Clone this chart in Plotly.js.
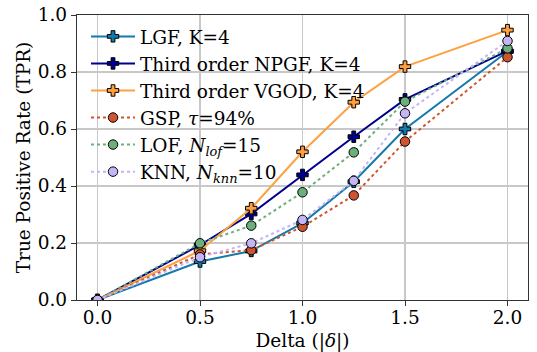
<!DOCTYPE html>
<html>
<head>
<meta charset="utf-8">
<script src="https://cdn.plot.ly/plotly-3.0.1.min.js"></script>
<style>html,body{margin:0;padding:0;background:#fff;}#chart{width:537px;height:352px;}</style>
</head>
<body>
<div id="chart"></div>
<script>
const delta = [0.0, 0.5, 0.75, 1.0, 1.25, 1.5, 2.0];
const lgf  = [0.0, 0.135, 0.172, 0.270, 0.415, 0.600, 0.872];
const npgf = [0.0, 0.193, 0.302, 0.439, 0.573, 0.704, 0.874];
const vgod = [0.0, 0.173, 0.322, 0.520, 0.694, 0.819, 0.947];
const gsp  = [0.0, 0.160, 0.175, 0.257, 0.367, 0.556, 0.852];
const lof  = [0.0, 0.199, 0.261, 0.378, 0.518, 0.696, 0.883];
const knn  = [0.0, 0.150, 0.199, 0.281, 0.418, 0.655, 0.909];

const names = ["LGF, K=4", "Third order NPGF, K=4", "Third order VGOD, K=4",
  "GSP, <i>τ</i>=94%", "LOF, <i>N<sub>lof</sub></i>=15", "KNN, <i>N<sub>knn</sub></i>=10"];
const series = [lgf, npgf, vgod, gsp, lof, knn];
const colors = ["#1679ab", "#00008b", "#ffa040", "#cf5530", "#6aaf7c", "#c5b5f7"];
const dashes = ["solid", "solid", "solid", "dot", "dot", "dot"];
const symbols = ["cross", "cross", "cross", "circle", "circle", "circle"];

const traces = series.map((ys, i) => ({
  x: delta, y: ys, name: names[i], type: "scatter", mode: "lines+markers",
  line: {color: colors[i], width: 2, dash: dashes[i]},
  marker: {symbol: symbols[i], size: 9.5, color: colors[i],
           line: {color: "#000", width: 1}}
}));

const fam = "'DejaVu Serif', serif";
const font = {family: fam, size: 18.5, color: "#000"};
const layout = {
  width: 537, height: 352,
  margin: {l: 77, r: 9, t: 15, b: 52},
  paper_bgcolor: "#fff", plot_bgcolor: "#fff",
  font: font,
  showlegend: true,
  legend: {x: 0.02, y: 0.99, xanchor: "left", yanchor: "top", bgcolor: "rgba(0,0,0,0)",
           font: {family: fam, size: 18.5, color: "#000"}, tracegroupgap: 0, itemwidth: 44},
  xaxis: {range: [-0.1, 2.1], tickvals: [0, 0.5, 1.0, 1.5, 2.0], ticktext: ["0.0","0.5","1.0","1.5","2.0"],
          showgrid: true, gridcolor: "#c8c8c8", gridwidth: 1.5, zeroline: false,
          showline: true, linecolor: "#333", linewidth: 1.2, mirror: true,
          ticks: "outside", ticklen: 5, tickcolor: "#333", ticklabelstandoff: -4,
          title: {text: "Delta (|<i>δ</i>|)", font: font, standoff: 6}},
  yaxis: {range: [0, 1.0], tickvals: [0, 0.2, 0.4, 0.6, 0.8, 1.0], ticktext: ["0.0","0.2","0.4","0.6","0.8","1.0"],
          showgrid: true, gridcolor: "#c8c8c8", gridwidth: 1.5, zeroline: false,
          showline: true, linecolor: "#333", linewidth: 1.2, mirror: true,
          ticks: "outside", ticklen: 5, tickcolor: "#333",
          title: {text: "True Positive Rate (TPR)", font: font, standoff: 2}}
};
Plotly.newPlot("chart", traces, layout, {displayModeBar: false, staticPlot: true});
</script>
</body>
</html>
